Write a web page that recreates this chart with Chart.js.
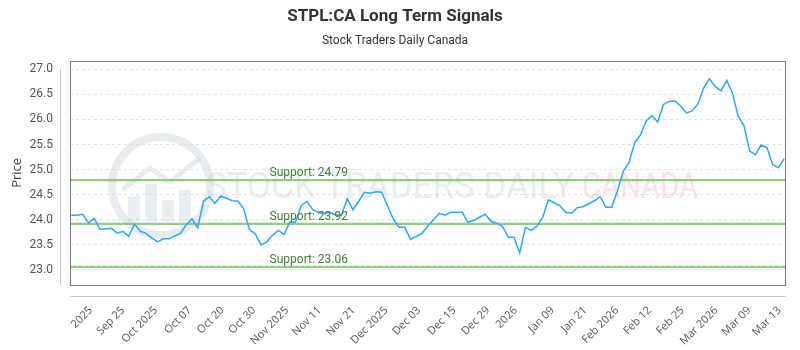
<!DOCTYPE html>
<html><head><meta charset="utf-8">
<script src="https://cdn.jsdelivr.net/npm/chart.js@4.4.1/dist/chart.umd.min.js"></script>
<style>html,body{margin:0;padding:0;background:#fff;}#wrap{width:800px;height:350px;}</style>
</head><body><div id="wrap"><canvas id="c" width="800" height="350"></canvas></div>
<script>
const prices = [
 24.09,24.09,24.11,23.94,24.03,23.81,23.82,23.83,23.73,23.77,23.67,23.91,23.77,23.73,23.64,23.56,23.62,23.62,23.68,23.73,23.90,24.02,23.84,24.37,24.46,24.33,24.47,24.43,24.38,24.37,24.22,
 23.80,23.72,23.50,23.56,23.69,23.79,23.71,23.95,23.95,24.28,24.37,24.20,24.15,24.12,24.15,24.09,24.09,24.42,24.20,24.37,24.55,24.53,24.56,24.55,24.28,24.02,23.85,23.85,23.61,23.67,23.73,
 23.87,24.00,24.13,24.09,24.15,24.15,24.15,23.95,23.99,24.05,24.11,23.97,23.93,23.87,23.65,23.65,23.34,23.85,23.79,23.87,24.05,24.40,24.34,24.28,24.15,24.13,24.24,24.26,24.32,24.38,24.46,24.25,
 24.25,24.58,24.96,25.14,25.54,25.69,25.97,26.08,25.95,26.30,26.36,26.37,26.27,26.13,26.17,26.31,26.63,26.81,26.66,26.57,26.78,26.53,26.06,25.88,25.37,25.30,25.49,25.44,25.10,25.04,25.22
];
const supports = [24.79, 23.92, 23.06];
const supportLabels = ['Support: 24.79', 'Support: 23.92', 'Support: 23.06'];
const yTicks = [23.0, 23.5, 24.0, 24.5, 25.0, 25.5, 26.0, 26.5, 27.0];
const xTickPos = [3.4, 9.0, 14.7, 20.6, 26.3, 31.8, 37.5, 43.2, 49.1, 54.8, 60.5, 66.6, 72.5, 77.3, 83.7, 89.4, 94.9, 100.6, 106.3, 112.2, 117.9, 123.2];
const xTickLabels = ['2025','Sep 25','Oct 2025','Oct 07','Oct 20','Oct 30','Nov 2025','Nov 11','Nov 21','Dec 2025','Dec 03','Dec 15','Dec 29','2026','Jan 09','Jan 21','Feb 2026','Feb 12','Feb 25','Mar 2026','Mar 09','Mar 13'];

const X_MIN = -0.22, X_MAX = prices.length - 1 + 0.29;
const SUPPORT_LABEL_X = 34.5;

const linePoints = prices.map((v, i) => ({x: i, y: v}));
const supportSets = supports.map(s => ({
  data: [{x: X_MIN, y: s}, {x: X_MAX, y: s}],
  borderColor: 'rgba(120,190,105,0.8)', borderWidth: 2.2, pointRadius: 0, fill: false
}));

const watermark = {
  id: 'watermark',
  beforeDatasetsDraw(chart) {
    const ctx = chart.ctx;
    ctx.save();
    ctx.strokeStyle = 'rgba(200,212,222,0.45)';
    ctx.lineWidth = 8;
    ctx.beginPath(); ctx.arc(161, 186, 49, 0, Math.PI * 2); ctx.stroke();
    ctx.fillStyle = 'rgba(200,212,222,0.40)';
    ctx.fillRect(128, 196, 12, 26);
    ctx.fillRect(145, 184, 12, 38);
    ctx.fillRect(162, 200, 12, 22);
    ctx.fillRect(179, 190, 12, 32);
    ctx.strokeStyle = 'rgba(200,212,222,0.45)';
    ctx.lineWidth = 5;
    ctx.beginPath(); ctx.moveTo(122, 190); ctx.lineTo(150, 168); ctx.lineTo(170, 182); ctx.lineTo(200, 158); ctx.stroke();
    ctx.font = '400 46px Roboto';
    ctx.textBaseline = 'alphabetic';
    let t1 = 'STOCK TRADERS DAILY';
    let w1 = ctx.measureText(t1).width;
    ctx.translate(206, 198);
    ctx.scale(368 / w1, 0.8);
    ctx.fillStyle = 'rgba(205,215,225,0.45)';
    ctx.fillText(t1, 0, 0);
    ctx.restore();
    ctx.save();
    ctx.font = '400 46px Roboto';
    let t2 = 'CANADA';
    let w2 = ctx.measureText(t2).width;
    ctx.translate(582, 198);
    ctx.scale(116 / w2, 0.8);
    ctx.fillStyle = 'rgba(250,195,195,0.45)';
    ctx.fillText(t2, 0, 0);
    ctx.restore();
  }
};

const decorations = {
  id: 'decorations',
  afterDraw(chart) {
    const ctx = chart.ctx, a = chart.chartArea;
    const ys = chart.scales.y, xs = chart.scales.x;
    ctx.save();
    ctx.strokeStyle = '#7a7a7a'; ctx.lineWidth = 1;
    ctx.strokeRect(Math.round(a.left) + 0.5, Math.round(a.top) + 0.5, Math.round(a.right - a.left) - 1, Math.round(a.bottom - a.top));
    ctx.strokeStyle = '#c8c8c8';
    ctx.beginPath();
    ctx.moveTo(a.left - 9.5, ys.getPixelForValue(yTicks[yTicks.length - 1]));
    ctx.lineTo(a.left - 9.5, a.bottom);
    ctx.moveTo(a.left, a.bottom + 11.5);
    ctx.lineTo(a.right, a.bottom + 11.5);
    ctx.stroke();
    ctx.font = '12px Roboto';
    ctx.fillStyle = '#3f7f33';
    ctx.textBaseline = 'alphabetic';
    supports.forEach((s, i) => {
      ctx.fillText(supportLabels[i], xs.getPixelForValue(SUPPORT_LABEL_X), ys.getPixelForValue(s) - 4);
    });
    ctx.restore();
  }
};

new Chart(document.getElementById('c'), {
  type: 'line',
  data: {
    datasets: [
      { data: linePoints, borderColor: 'rgb(45,168,248)', borderWidth: 1.5, pointRadius: 0, tension: 0, fill: false },
      ...supportSets
    ]
  },
  options: {
    responsive: false, animation: false, devicePixelRatio: 1,
    layout: { padding: { left: 0, right: 10, top: 0, bottom: 0 } },
    plugins: {
      legend: { display: false }, tooltip: { enabled: false },
      title: { display: true, text: 'STPL:CA Long Term Signals', color: '#333', font: { family: 'Roboto', size: 17, weight: 'bold' }, padding: { top: 7, bottom: 6 } },
      subtitle: { display: true, text: 'Stock Traders Daily Canada', color: '#333', font: { family: 'Roboto', size: 12 }, padding: { top: 0, bottom: 13 } }
    },
    scales: {
      x: {
        type: 'linear', min: X_MIN, max: X_MAX,
        grid: { display: false }, border: { display: false },
        afterBuildTicks(scale) { scale.ticks = xTickPos.map(v => ({ value: v })); },
        afterFit(scale) { scale.height = 65; },
        ticks: {
          autoSkip: false, maxRotation: 45, minRotation: 45, padding: 11, color: '#555',
          font: { family: 'Open Sans', size: 11 },
          callback: (v, i) => xTickLabels[i]
        }
      },
      y: {
        type: 'linear', min: 22.7, max: 27.17,
        grid: { color: '#e3e3e3', drawTicks: false },
        border: { display: false, dash: [3, 3] },
        afterBuildTicks(scale) { scale.ticks = yTicks.map(v => ({ value: v })); },
        afterFit(scale) { scale.width = 70; },
        title: { display: true, text: 'Price', color: '#444', font: { family: 'Open Sans', size: 13 }, padding: { top: 9, bottom: 0 } },
        ticks: { padding: 17, color: '#555', font: { family: 'Roboto', size: 12 }, callback: v => v.toFixed(1) }
      }
    }
  },
  plugins: [watermark, decorations]
});
</script>
</body></html>
